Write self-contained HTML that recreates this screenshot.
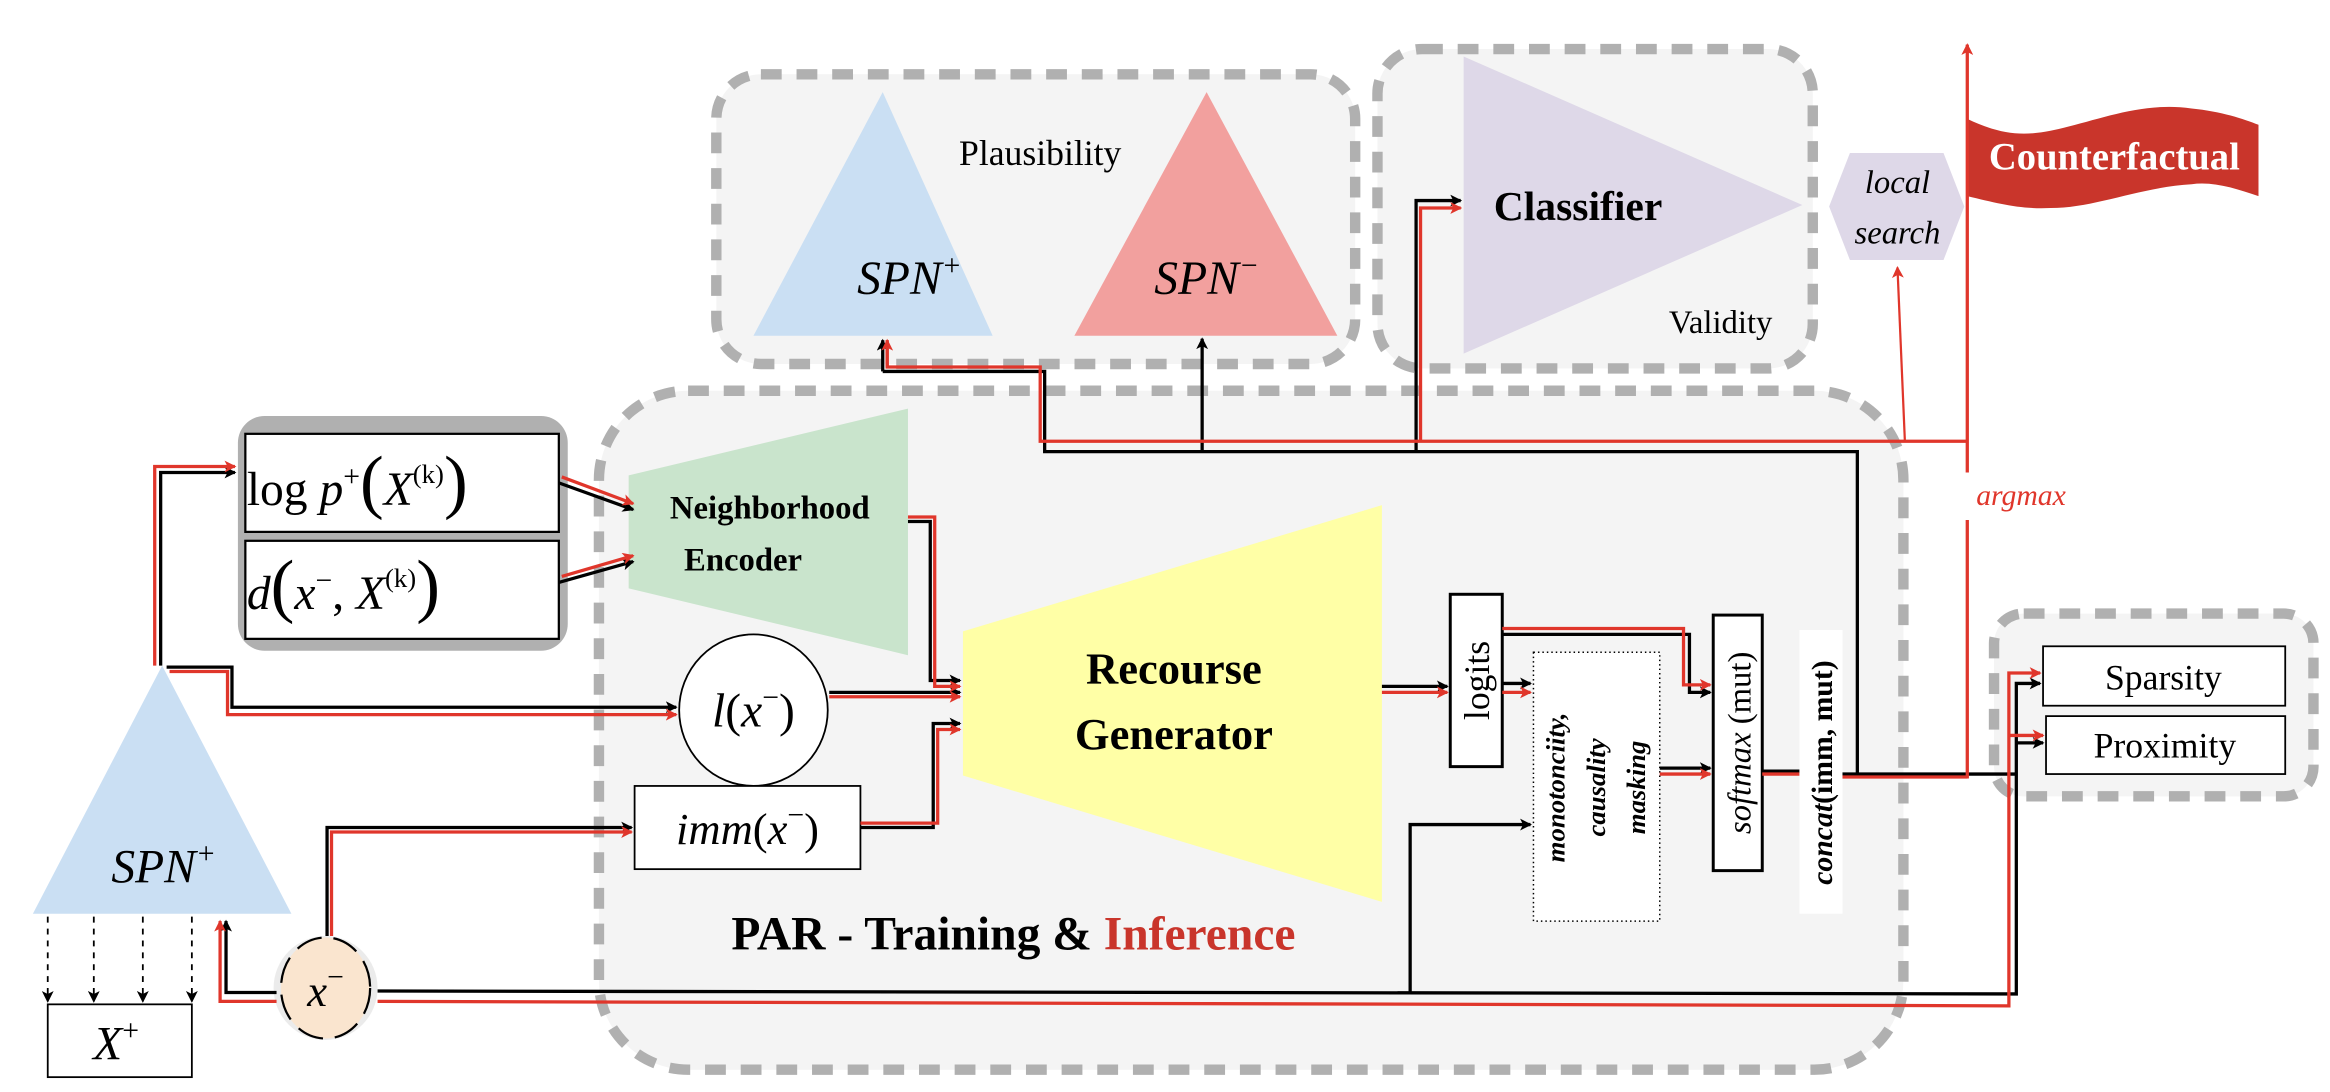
<!DOCTYPE html>
<html><head><meta charset="utf-8"><style>
html,body{margin:0;padding:0;background:#fff;}
svg{display:block;}
text{font-family:"Liberation Serif",serif;}
</style></head><body>
<svg width="2330" height="1092" viewBox="0 0 1568 735" xmlns="http://www.w3.org/2000/svg">
<defs>
<marker id="ab" markerWidth="8" markerHeight="8" refX="7" refY="4" orient="auto" markerUnits="userSpaceOnUse"><path d="M0,0 L8,4 L0,8 L2,4 z" fill="#000"/></marker>
<marker id="ar" markerWidth="8" markerHeight="8" refX="7" refY="4" orient="auto" markerUnits="userSpaceOnUse"><path d="M0,0 L8,4 L0,8 L2,4 z" fill="#e0362b"/></marker>
</defs>
<g fill="#f4f4f4" stroke="#b0b0b0" stroke-width="7" stroke-dasharray="14,10">
<rect x="482" y="50" width="430" height="195" rx="30"/>
<rect x="927" y="33" width="293" height="215" rx="30"/>
<rect x="403" y="263" width="878" height="457" rx="60"/>
<rect x="1342" y="413" width="215" height="123" rx="20"/>
</g>
<polygon points="594,62 507,226 668,226" fill="#cadff3"/>
<polygon points="812,62 723,226 900,226" fill="#f2a09e"/>
<text x="700" y="111" font-size="24" text-anchor="middle">Plausibility</text>
<text x="612" y="198" font-size="32" font-style="italic" text-anchor="middle">SPN<tspan font-size="20" dy="-13">+</tspan></text>
<text x="812" y="198" font-size="32" font-style="italic" text-anchor="middle">SPN<tspan font-size="20" dy="-13">−</tspan></text>
<polygon points="985,38 985,238 1213,138" fill="#ded8e8"/>
<text x="1062" y="148" font-size="28" font-weight="bold" text-anchor="middle">Classifier</text>
<text x="1158" y="224" font-size="22" text-anchor="middle">Validity</text>
<polygon points="1245,103 1308,103 1322,139 1308,175 1245,175 1231,139" fill="#ded8e8"/>
<text x="1277" y="130" font-size="22" font-style="italic" text-anchor="middle">local</text>
<text x="1277" y="164" font-size="22" font-style="italic" text-anchor="middle">search</text>
<path d="M1324,80 C1345,90 1360,92 1380,88 C1410,82 1440,68 1475,73 C1495,75 1510,80 1520,84 L1520,132 C1505,127 1490,122 1475,124 C1440,126 1410,140 1380,140 C1360,141 1345,137 1324,132 Z" fill="#c9352b"/>
<text x="1423" y="114" font-size="26" font-weight="bold" fill="#fff" text-anchor="middle">Counterfactual</text>
<rect x="1318" y="318" width="12" height="30" fill="#fff"/>
<text x="1330" y="340" font-size="20" font-style="italic" fill="#e0362b">argmax</text>
<!-- left gray box -->
<rect x="160" y="280" width="222" height="158" rx="18" fill="#b0b0b0"/>
<rect x="165" y="292" width="211" height="66" fill="#fff" stroke="#000" stroke-width="1.5"/>
<rect x="165" y="364" width="211" height="66" fill="#fff" stroke="#000" stroke-width="1.5"/>
<text x="166" y="340" font-size="32">log <tspan font-style="italic">p</tspan><tspan font-size="20" dy="-13">+</tspan><tspan dy="13" font-size="48">(</tspan><tspan font-style="italic">X</tspan><tspan font-size="18" dy="-15">(k)</tspan><tspan dy="15" font-size="48">)</tspan></text>
<text x="166" y="410" font-size="32"><tspan font-style="italic">d</tspan><tspan font-size="48">(</tspan><tspan font-style="italic">x</tspan><tspan font-size="20" dy="-13">−</tspan><tspan dy="13">, </tspan><tspan font-style="italic">X</tspan><tspan font-size="18" dy="-15">(k)</tspan><tspan dy="15" font-size="48">)</tspan></text>
<polygon points="423,320 611,275 611,441 423,396" fill="#c9e4cc"/>
<text x="518" y="349" font-size="22" font-weight="bold" text-anchor="middle">Neighborhood</text>
<text x="500" y="384" font-size="22" font-weight="bold" text-anchor="middle">Encoder</text>
<polygon points="648,425 930,340 930,607 648,522" fill="#ffffa6"/>
<text x="790" y="460" font-size="30" font-weight="bold" text-anchor="middle">Recourse</text>
<text x="790" y="504" font-size="30" font-weight="bold" text-anchor="middle">Generator</text>
<ellipse cx="507" cy="478" rx="50" ry="51" fill="#fff" stroke="#000" stroke-width="1.2"/>
<text x="507" y="489" font-size="32" text-anchor="middle"><tspan font-style="italic">l</tspan>(<tspan font-style="italic">x</tspan><tspan font-size="20" dy="-13">−</tspan><tspan dy="13">)</tspan></text>
<rect x="427" y="529" width="152" height="56" fill="#fff" stroke="#000" stroke-width="1.2"/>
<text x="503" y="568" font-size="30" text-anchor="middle"><tspan font-style="italic">imm</tspan>(<tspan font-style="italic">x</tspan><tspan font-size="20" dy="-13">−</tspan><tspan dy="13">)</tspan></text>
<text x="682" y="639" font-size="32" font-weight="bold" text-anchor="middle">PAR - Training &amp; <tspan fill="#c9352b">Inference</tspan></text>
<!-- left SPN -->
<polygon points="109,448 22,615 196,615" fill="#cadff3"/>
<text x="110" y="594" font-size="32" font-style="italic" text-anchor="middle">SPN<tspan font-size="20" dy="-13">+</tspan></text>
<g stroke="#000" stroke-width="1.2" stroke-dasharray="4,4" marker-end="url(#ab)">
<line x1="32" y1="617" x2="32" y2="674"/><line x1="63" y1="617" x2="63" y2="674"/><line x1="96" y1="617" x2="96" y2="674"/><line x1="129" y1="617" x2="129" y2="674"/>
</g>
<rect x="32" y="676" width="97" height="49" fill="#fff" stroke="#000" stroke-width="1.2"/>
<text x="78" y="713" font-size="32" font-style="italic" text-anchor="middle">X<tspan font-size="20" dy="-13" font-style="normal">+</tspan></text>
<circle cx="219" cy="665" r="35" fill="#ebebeb"/>
<ellipse cx="219" cy="665" rx="30" ry="34" fill="#fae5cf" stroke="#000" stroke-width="1.5" stroke-dasharray="18,8"/>
<text x="219" y="677" font-size="30" font-style="italic" text-anchor="middle">x<tspan font-size="20" dy="-13" font-style="normal">−</tspan></text>
<!-- side boxes -->
<rect x="976" y="400" width="35" height="116" fill="#fff" stroke="#000" stroke-width="2"/>
<text transform="translate(1002,458) rotate(-90)" font-size="24" text-anchor="middle">logits</text>
<rect x="1032" y="439" width="85" height="181" fill="#fff" stroke="#000" stroke-width="1" stroke-dasharray="1,2"/>
<g font-size="18" font-weight="bold" font-style="italic" text-anchor="middle">
<text transform="translate(1053,530) rotate(-90)">monotonciity,</text>
<text transform="translate(1080,530) rotate(-90)">causality</text>
<text transform="translate(1107,530) rotate(-90)">masking</text>
</g>
<rect x="1153" y="414" width="33" height="172" fill="#fff" stroke="#000" stroke-width="2"/>
<text transform="translate(1178,500) rotate(-90)" font-size="22" text-anchor="middle"><tspan font-style="italic">softmax</tspan> (mut)</text>
<rect x="1211" y="424" width="29" height="191" fill="#fff"/>
<text transform="translate(1233,520) rotate(-90)" font-size="20" font-weight="bold" text-anchor="middle"><tspan font-style="italic">concat</tspan>(imm, mut)</text>
<rect x="1375" y="435" width="163" height="40" fill="#fff" stroke="#000" stroke-width="1.2"/>
<text x="1456" y="464" font-size="24" text-anchor="middle">Sparsity</text>
<rect x="1377" y="482" width="161" height="39" fill="#fff" stroke="#000" stroke-width="1.2"/>
<text x="1457" y="510" font-size="24" text-anchor="middle">Proximity</text>
<!-- connectors black -->
<g fill="none" stroke="#000" stroke-width="2.2">
<path d="M594,250 L703,250 L703,304 L1250,304 L1250,520"/>
<path d="M594,250 L594,229" marker-end="url(#ab)"/>
<path d="M809,304 L809,228" marker-end="url(#ab)"/>
<path d="M953,304 L953,135 L983,135" marker-end="url(#ab)"/>
<path d="M108,448 L108,318 L158,318" marker-end="url(#ab)"/>
<path d="M112,449 L156,449 L156,476 L455,476" marker-end="url(#ab)"/>
<path d="M376,325 L426,343" marker-end="url(#ab)"/>
<path d="M376,392 L426,378" marker-end="url(#ab)"/>
<path d="M611,351 L626,351 L626,458 L646,458" marker-end="url(#ab)"/>
<path d="M558,466 L646,466" marker-end="url(#ab)"/>
<path d="M579,557 L628,557 L628,487 L646,487" marker-end="url(#ab)"/>
<path d="M220,630 L220,557 L425,557" marker-end="url(#ab)"/>
<path d="M186,668 L152,668 L152,620" marker-end="url(#ab)"/>
<path d="M254,667 L1357,669 L1357,460 L1373,460" marker-end="url(#ab)"/>
<path d="M1357,500 L1375,500" marker-end="url(#ab)"/>
<path d="M949,668 L949,555 L1030,555" marker-end="url(#ab)"/>
<path d="M930,462 L974,462" marker-end="url(#ab)"/>
<path d="M1011,460 L1030,460" marker-end="url(#ab)"/>
<path d="M1011,427 L1137,427 L1137,466 L1151,466" marker-end="url(#ab)"/>
<path d="M1117,517 L1151,517" marker-end="url(#ab)"/>
<path d="M1186,519 L1211,519"/>
<path d="M1240,521 L1357,521"/>
</g>
<!-- connectors red -->
<g fill="none" stroke="#e0362b" stroke-width="2.2">
<path d="M597,229 L597,247 L700,247 L700,297 L1324,297"/>
<path d="M597,247 L597,229" marker-end="url(#ar)"/>
<path d="M956,297 L956,140 L983,140" marker-end="url(#ar)"/>
<path d="M1282,297 L1277,180" stroke-width="1.5" marker-end="url(#ar)"/>
<path d="M1324,524 L1324,350"/>
<path d="M1324,318 L1324,30" marker-end="url(#ar)"/>
<path d="M104,448 L104,314 L158,314" marker-end="url(#ar)"/>
<path d="M114,452 L153,452 L153,481 L455,481" marker-end="url(#ar)"/>
<path d="M378,321 L426,339" marker-end="url(#ar)"/>
<path d="M378,388 L426,374" marker-end="url(#ar)"/>
<path d="M611,348 L629,348 L629,462 L646,462" marker-end="url(#ar)"/>
<path d="M558,469 L646,469" marker-end="url(#ar)"/>
<path d="M579,554 L631,554 L631,491 L646,491" marker-end="url(#ar)"/>
<path d="M223,630 L223,560 L425,560" marker-end="url(#ar)"/>
<path d="M186,674 L148,674 L148,620" marker-end="url(#ar)"/>
<path d="M254,674 L1352,677 L1352,453 L1373,453" marker-end="url(#ar)"/>
<path d="M1352,495 L1375,495" marker-end="url(#ar)"/>
<path d="M930,466 L974,466" marker-end="url(#ar)"/>
<path d="M1011,466 L1030,466" marker-end="url(#ar)"/>
<path d="M1011,423 L1133,423 L1133,461 L1151,461" marker-end="url(#ar)"/>
<path d="M1117,521 L1151,521" marker-end="url(#ar)"/>
<path d="M1186,521 L1211,521"/>
<path d="M1240,523 L1324,523"/>
</g>
</svg>
</body></html>
